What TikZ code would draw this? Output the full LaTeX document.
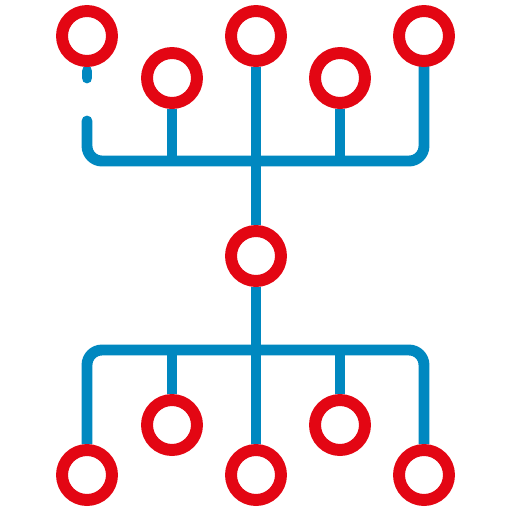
\documentclass[tikz,border=0pt]{standalone}
\usetikzlibrary{backgrounds}
\definecolor{ringred}{HTML}{E30613}
\definecolor{linkblue}{HTML}{0088C0}
\begin{document}
\begin{tikzpicture}[x=0.02cm, y=-0.02cm,
  hub/.style={circle, draw=ringred, line width=6.8pt, fill=white, inner sep=0pt, minimum size=1cm},
  link/.style={draw=linkblue, line width=6.2pt}]
\useasboundingbox (0,0) rectangle (512,512);
% Rings
\node[hub] (t1) at (87,36) {};
\node[hub] (t2) at (172,78) {};
\node[hub] (t3) at (256,36) {};
\node[hub] (t4) at (340,78) {};
\node[hub] (t5) at (424,36) {};
\node[hub] (c) at (256,256) {};
\node[hub] (b1) at (87,475) {};
\node[hub] (b2) at (172,425) {};
\node[hub] (b3) at (256,475) {};
\node[hub] (b4) at (340,425) {};
\node[hub] (b5) at (424,475) {};
% Junctions
\coordinate (tdash) at (87,78);
\coordinate (tgap) at (87,121);
\coordinate (tbar2) at (172,161);
\coordinate (tbar4) at (340,161);
\coordinate (bbar2) at (172,350);
\coordinate (bbar4) at (340,350);
% Links, behind the rings
\begin{pgfonlayer}{background}
\path[link, line cap=round] (t1.south) ++(0,4) -- (tdash);
\path[link, line cap=round, rounded corners=0.3cm] (tgap) -- (87,161) -- (424,161) -- (t5.south);
\path[link] (t2) -- (tbar2);
\path[link] (t4) -- (tbar4);
\path[link] (t3) -- (c);
\path[link] (c) -- (b3);
\path[link, rounded corners=0.3cm] (b1.north) -- (87,350) -- (424,350) -- (b5.north);
\path[link] (b2) -- (bbar2);
\path[link] (b4) -- (bbar4);
\end{pgfonlayer}
\end{tikzpicture}
\end{document}
